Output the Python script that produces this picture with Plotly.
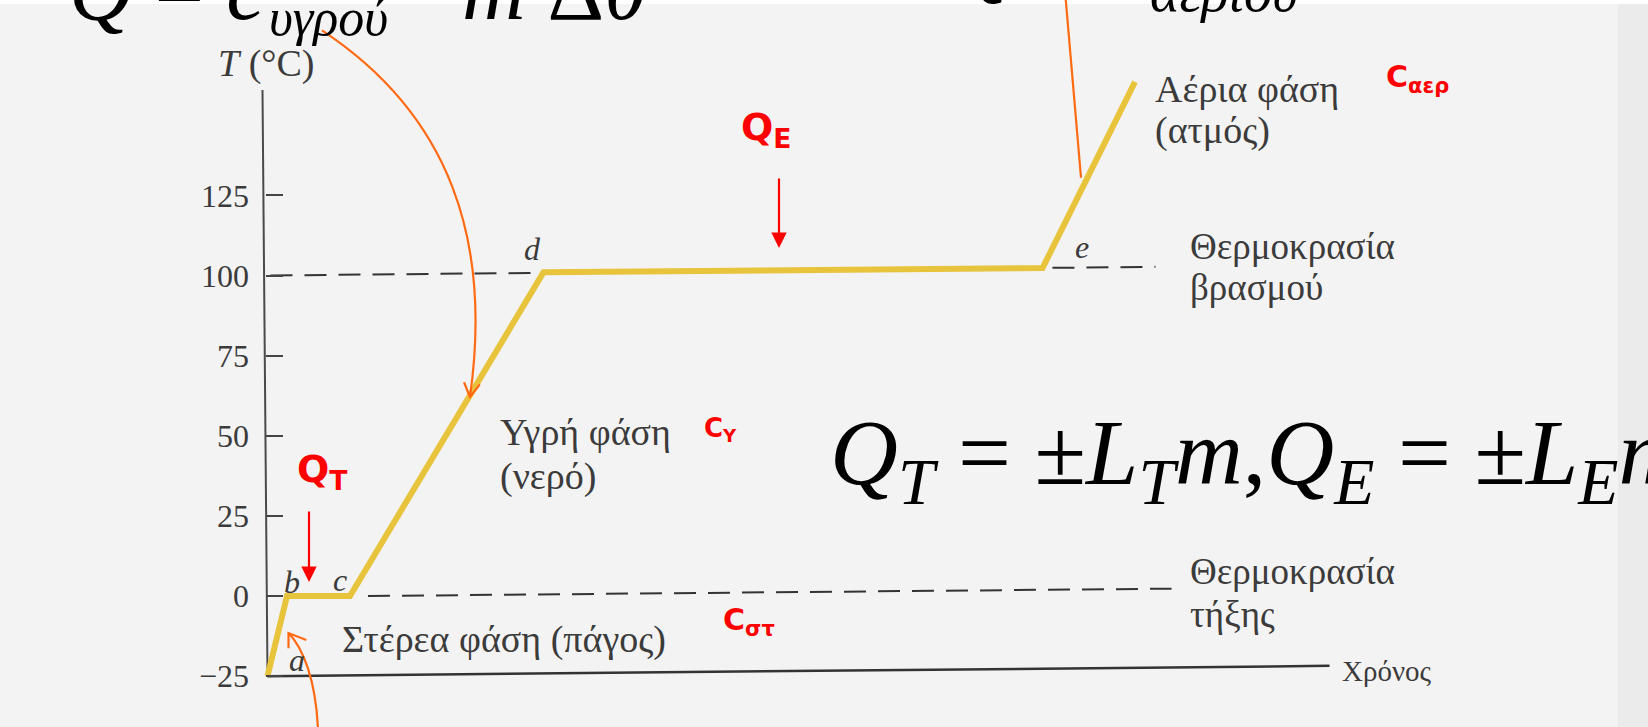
import plotly.graph_objects as go

# Καμπύλη θέρμανσης νερού: χρόνος (αυθαίρετες μονάδες) - θερμοκρασία (°C)
time_pts = [0, 1.95, 8.25, 27.6, 77.5, 86.75]
temp_pts = [-25, 0, 0, 101, 102.3, 160.4]

# άξονες (η σάρωση είναι ελαφρώς στραβή)
yaxis_t = [0, -0.5]
yaxis_T = [-25, 157.9]
xaxis_t = [0, 106.2]
xaxis_T = [-25, -21.8]

# διακεκομμένες γραμμές βρασμού / τήξης
boil_t = [0.3, 88.8]
boil_T = [100, 102.7]
melt_t = [10.05, 90.4]
melt_T = [0, 2.3]

tick_vals = [-25, 0, 25, 50, 75, 100, 125]
tick_text = ["−25", "0", "25", "50", "75", "100", "125"]

W, H = 1648, 727
X0_PX, PX_PER_T = 267.5, 10.0
Y0_PX, PX_PER_DEG = 596, 3.205
x_range = [-X0_PX / PX_PER_T, (W - X0_PX) / PX_PER_T]
y_range = [-(H - Y0_PX) / PX_PER_DEG, Y0_PX / PX_PER_DEG]

BG = "#f4f3f3"
INK = "#3b3b3b"
YELLOW = "#e8c33c"
ORANGE = "#ff6a13"
RED = "#ff0000"
SERIF = "Liberation Serif"
SANS = "DejaVu Sans"

fig = go.Figure()

dash = dict(color="#333333", width=2, dash="22px,12px")
fig.add_trace(go.Scatter(x=boil_t, y=boil_T, mode="lines", line=dash))
fig.add_trace(go.Scatter(x=melt_t, y=melt_T, mode="lines", line=dash))
fig.add_trace(go.Scatter(x=yaxis_t, y=yaxis_T, mode="lines",
                         line=dict(color="#4a4a4a", width=2)))
fig.add_trace(go.Scatter(x=xaxis_t, y=xaxis_T, mode="lines",
                         line=dict(color="#333333", width=2.5)))
fig.add_trace(go.Scatter(x=time_pts, y=temp_pts, mode="lines",
                         line=dict(color=YELLOW, width=6)))


def label(x, y, text, size=38, color=INK, family=SERIF, xanchor="left", yanchor="middle"):
    fig.add_annotation(x=x, y=y, text=text, showarrow=False, xanchor=xanchor,
                       yanchor=yanchor, font=dict(family=family, size=size, color=color))


# κείμενα του σχήματος
label(-0.15, 166.0, "<i>T</i> (°C)", size=38, xanchor="center")
label(26.5, 108.3, "<i>d</i>", size=32, xanchor="center")
label(81.4, 109.0, "<i>e</i>", size=32, xanchor="center")
label(2.4, 4.5, "<i>b</i>", size=32, xanchor="center")
label(7.25, 5.0, "<i>c</i>", size=32, xanchor="center")
label(2.95, -20.0, "<i>a</i>", size=32, xanchor="center")
label(88.55, 158.2, "Αέρια φάση")
label(88.55, 145.1, "(ατμός)")
label(92.05, 108.9, "Θερμοκρασία", size=37)
label(92.05, 96.4, "βρασμού", size=37)
label(92.05, 7.8, "Θερμοκρασία", size=37)
label(92.05, -5.9, "τήξης", size=37)
label(23.05, 51.2, "Υγρή φάση")
label(23.05, 37.4, "(νερό)")
label(7.25, -13.7, "Στέρεα φάση (πάγος)")
label(107.25, -23.4, "Χρόνος", size=29)

# κόκκινες σημειώσεις
label(49.8, 145.5, "<b>Q<sub>E</sub></b>", size=38, color=RED, family=SANS, xanchor="center")
label(5.45, 39.0, "<b>Q<sub>T</sub></b>", size=38, color=RED, family=SANS, xanchor="center")
label(45.25, 52.0, "<b>C<sub>Υ</sub></b>", size=26, color=RED, family=SANS, xanchor="center")
label(48.15, -7.8, "<b>C<sub>στ</sub></b>", size=30, color=RED, family=SANS, xanchor="center")
label(114.95, 161.4, "<b>C<sub>αερ</sub></b>", size=30, color=RED, family=SANS, xanchor="center")

for tip, tail in [((51.15, 108.6), (51.15, 130.7)), ((4.15, 4.4), (4.15, 26.8))]:
    fig.add_annotation(x=tip[0], y=tip[1], ax=tail[0], ay=tail[1], axref="x", ayref="y",
                       text="", showarrow=True, arrowhead=2, arrowsize=1.4,
                       arrowwidth=2.2, arrowcolor=RED)

# εξισώσεις
label(56.0, 42.6, "<i>Q</i><sub><i>T</i></sub> = ±<i>L</i><sub><i>T</i></sub><i>m</i>,"
      "<i>Q</i><sub><i>E</i></sub> = ±<i>L</i><sub><i>E</i></sub><i>m</i>",
      size=94, color="#000000")
# πάνω εξισώσεις, κομμένες από το πάνω άκρο
label(-20.05, 173.5, "<i>Q</i> = <i>c</i>", size=88, color="#000000", yanchor="bottom")
label(-0.05, 171.0, "<i>υγρού</i>", size=52, color="#000000", yanchor="bottom")
label(19.25, 173.5, "<i>m</i> Δ<i>θ</i>", size=88, color="#000000", yanchor="bottom")
label(67.8, 182.8, "<i>Q</i> = <i>c</i>", size=88, color="#000000", yanchor="bottom")
label(88.05, 178.2, "<i>αερίου</i>", size=56, color="#000000", yanchor="bottom")
label(106.5, 182.8, "<i>m</i> Δ<i>θ</i>", size=88, color="#000000", yanchor="bottom")

# πορτοκαλί βέλη
orange_paths = [
    "M 5.45 176.5 C 18.25 150.08 22.45 111.08 20.25 62.09"
    " M 21.23 66.02 L 20.25 62.09 L 19.65 66.7",
    "M 5.05 -41.8 C 4.85 -26.2 3.55 -16.2 2.1 -11.55"
    " M 2.1 -16.3 L 2.1 -11.55 L 3.88 -13.7",
    "M 79.8 187 L 81.35 130.5",
]
for p in orange_paths:
    fig.add_shape(type="path", path=p, xref="x", yref="y",
                  line=dict(color=ORANGE, width=2.2))

# λευκή λωρίδα πάνω και σκιά δεξιά της σάρωσης
fig.add_shape(type="rect", xref="paper", yref="paper", x0=0, x1=1, y0=1 - 4 / H, y1=1,
              fillcolor="white", line_width=0, layer="below")
fig.add_shape(type="rect", xref="paper", yref="paper", x0=1 - 30 / W, x1=1, y0=0, y1=1 - 4 / H,
              fillcolor="#ecebeb", line_width=0, layer="below")

fig.update_layout(
    width=W, height=H,
    margin=dict(l=0, r=0, t=0, b=0),
    paper_bgcolor=BG, plot_bgcolor=BG,
    showlegend=False,
    xaxis=dict(range=x_range, visible=False, fixedrange=True),
    yaxis=dict(range=y_range, anchor="free", position=265 / W, automargin=False,
               showgrid=False, zeroline=False, showline=False,
               tickvals=tick_vals, ticktext=tick_text,
               ticks="inside", ticklen=17, tickwidth=2, tickcolor="#444444",
               ticklabelstandoff=16,
               tickfont=dict(family=SERIF, size=32, color=INK), fixedrange=True),
)

# η σελίδα έχει εξ ορισμού περιθώριο 8px, το μηδενίζουμε
fig.write_html("out.html", config={"displayModeBar": False},
               post_script="document.body.style.margin='0';"
                           "document.body.style.overflow='hidden';")
